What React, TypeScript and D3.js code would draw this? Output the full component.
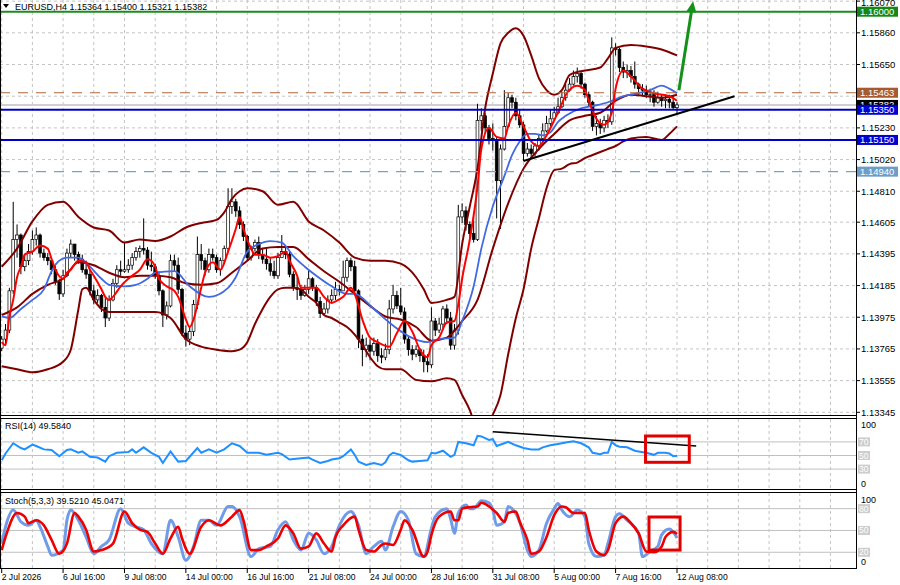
import React from 'react';
import * as d3 from 'd3';

// ---- values ----
const firstOpen = 1.1377;

const closes = [
  1.1383, 1.1389, 1.1415, 1.1449, 1.1452, 1.1431, 1.1435, 1.1441, 1.1449, 1.1452,
  1.1440, 1.1437, 1.1435, 1.1429, 1.1421, 1.1413, 1.1425, 1.1440, 1.1446, 1.1439,
  1.1436, 1.1429, 1.1426, 1.1415, 1.1409, 1.1412, 1.1404, 1.1397, 1.1409, 1.1420,
  1.1429, 1.1428, 1.1429, 1.1432, 1.1437, 1.1441, 1.1443, 1.1442, 1.1432, 1.1431,
  1.1425, 1.1415, 1.1399, 1.1405, 1.1435, 1.1432, 1.1416, 1.1387, 1.1383, 1.1388,
  1.1406, 1.1439, 1.1435, 1.1429, 1.1439, 1.1437, 1.1429, 1.1435, 1.1443, 1.1471,
  1.1474, 1.1468, 1.1459, 1.1451, 1.1437, 1.1443, 1.1447, 1.1439, 1.1436, 1.1433,
  1.1428, 1.1425, 1.1437, 1.1441, 1.1439, 1.1426, 1.1417, 1.1416, 1.1412, 1.1416,
  1.1423, 1.1417, 1.1408, 1.1400, 1.1403, 1.1409, 1.1412, 1.1416, 1.1415, 1.1424,
  1.1435, 1.1431, 1.1415, 1.1383, 1.1376, 1.1379, 1.1375, 1.1380, 1.1372, 1.1371,
  1.1376, 1.1403, 1.1412, 1.1405, 1.1401, 1.1383, 1.1376, 1.1373, 1.1376, 1.1372,
  1.1368, 1.1366, 1.1395, 1.1389, 1.1393, 1.1403, 1.1397, 1.1379, 1.1389, 1.1464,
  1.1468, 1.1459, 1.1453, 1.1449, 1.1528, 1.1531, 1.1523, 1.1516, 1.1515, 1.1488,
  1.1509, 1.1524, 1.1543, 1.1540, 1.1531, 1.1525, 1.1506, 1.1509, 1.1506, 1.1511,
  1.1516, 1.1521, 1.1526, 1.1529, 1.1533, 1.1537, 1.1543, 1.1548, 1.1552, 1.1557,
  1.1559, 1.1552, 1.1545, 1.1540, 1.1524, 1.1526, 1.1523, 1.1528, 1.1527, 1.1576,
  1.1575, 1.1563, 1.1560, 1.1561, 1.1557, 1.1552, 1.1549, 1.1548, 1.1545, 1.1545,
  1.1540, 1.1543, 1.1541, 1.1542, 1.1540, 1.15364, 1.15382,
];

const highs = [
  1.1385, 1.1393, 1.1417, 1.1474, 1.1459, 1.1453, 1.1439, 1.1446, 1.1455, 1.1457,
  1.1453, 1.1443, 1.1440, 1.1436, 1.1433, 1.1423, 1.1429, 1.1443, 1.1449, 1.1446,
  1.1441, 1.1439, 1.1435, 1.1429, 1.1419, 1.1416, 1.1413, 1.1411, 1.1412, 1.1423,
  1.1432, 1.1435, 1.1447, 1.1436, 1.1440, 1.1444, 1.1445, 1.1463, 1.1444, 1.1441,
  1.1433, 1.1428, 1.1416, 1.1408, 1.1439, 1.1439, 1.1437, 1.1417, 1.1392, 1.1391,
  1.1409, 1.1451, 1.1446, 1.1437, 1.1443, 1.1443, 1.1439, 1.1437, 1.1445, 1.1483,
  1.1483, 1.1476, 1.1471, 1.1461, 1.1452, 1.1445, 1.1449, 1.1451, 1.1443, 1.1443,
  1.1437, 1.1435, 1.1440, 1.1452, 1.1444, 1.1441, 1.1428, 1.1424, 1.1419, 1.1419,
  1.1429, 1.1424, 1.1419, 1.1411, 1.1407, 1.1412, 1.1416, 1.1421, 1.1419, 1.1435,
  1.1437, 1.1437, 1.1435, 1.1416, 1.1386, 1.1384, 1.1383, 1.1384, 1.1383, 1.1377,
  1.1380, 1.1409, 1.1419, 1.1415, 1.1417, 1.1404, 1.1385, 1.1379, 1.1379, 1.1377,
  1.1376, 1.1373, 1.1404, 1.1397, 1.1397, 1.1405, 1.1406, 1.1401, 1.1393, 1.1472,
  1.1473, 1.1471, 1.1461, 1.1466, 1.1539, 1.1536, 1.1533, 1.1525, 1.1526, 1.1517,
  1.1512, 1.1548, 1.1546, 1.1545, 1.1543, 1.1535, 1.1527, 1.1513, 1.1512, 1.1513,
  1.1519, 1.1526, 1.1531, 1.1535, 1.1537, 1.1543, 1.1547, 1.1552, 1.1556, 1.1561,
  1.1563, 1.1560, 1.1553, 1.1547, 1.1541, 1.1531, 1.1529, 1.1531, 1.1532, 1.1583,
  1.1579, 1.1576, 1.1567, 1.1565, 1.1564, 1.1567, 1.1553, 1.1552, 1.1551, 1.1549,
  1.1548, 1.1547, 1.1545, 1.1545, 1.1545, 1.1544, 1.15400,
];

const lows = [
  1.1375, 1.1379, 1.1387, 1.1413, 1.1437, 1.1426, 1.1428, 1.1432, 1.1439, 1.1445,
  1.1437, 1.1435, 1.1432, 1.1426, 1.1419, 1.1409, 1.1411, 1.1424, 1.1437, 1.1435,
  1.1433, 1.1427, 1.1423, 1.1412, 1.1406, 1.1407, 1.1401, 1.1391, 1.1395, 1.1408,
  1.1417, 1.1425, 1.1427, 1.1427, 1.1429, 1.1435, 1.1437, 1.1439, 1.1429, 1.1428,
  1.1423, 1.1412, 1.1391, 1.1396, 1.1404, 1.1428, 1.1413, 1.1385, 1.1378, 1.1379,
  1.1385, 1.1403, 1.1429, 1.1425, 1.1427, 1.1435, 1.1427, 1.1425, 1.1433, 1.1441,
  1.1466, 1.1464, 1.1456, 1.1448, 1.1435, 1.1435, 1.1441, 1.1436, 1.1433, 1.1429,
  1.1425, 1.1423, 1.1423, 1.1437, 1.1436, 1.1424, 1.1415, 1.1409, 1.1409, 1.1411,
  1.1413, 1.1415, 1.1405, 1.1397, 1.1399, 1.1400, 1.1407, 1.1409, 1.1412, 1.1415,
  1.1421, 1.1428, 1.1412, 1.1377, 1.1365, 1.1371, 1.1369, 1.1372, 1.1368, 1.1367,
  1.1369, 1.1373, 1.1400, 1.1403, 1.1399, 1.1380, 1.1372, 1.1369, 1.1371, 1.1368,
  1.1361, 1.1361, 1.1364, 1.1385, 1.1387, 1.1389, 1.1393, 1.1376, 1.1376, 1.1386,
  1.1460, 1.1455, 1.1449, 1.1447, 1.1448, 1.1521, 1.1519, 1.1512, 1.1508, 1.1463,
  1.1456, 1.1508, 1.1523, 1.1536, 1.1528, 1.1523, 1.1501, 1.1504, 1.1503, 1.1504,
  1.1508, 1.1513, 1.1520, 1.1524, 1.1528, 1.1532, 1.1536, 1.1541, 1.1547, 1.1551,
  1.1553, 1.1549, 1.1543, 1.1537, 1.1521, 1.1518, 1.1519, 1.1520, 1.1523, 1.1525,
  1.1571, 1.1560, 1.1556, 1.1556, 1.1553, 1.1549, 1.1545, 1.1544, 1.1543, 1.1540,
  1.1537, 1.1539, 1.1537, 1.1536, 1.1536, 1.1535, 1.15321,
];

const priceTicks = [1.1607, 1.1586, 1.1565, 1.1544, 1.1523, 1.1502, 1.1481, 1.14605, 1.14395, 1.14185, 1.13975, 1.13765, 1.13555, 1.13345];
// 1.15440 sits behind the object labels on the axis, so its text is not shown
const hiddenTickLabels = [1.1544];
const timeLabels = ['2 Jul 2026', '6 Jul 16:00', '9 Jul 08:00', '14 Jul 00:00', '16 Jul 16:00', '21 Jul 08:00', '24 Jul 00:00', '28 Jul 16:00', '31 Jul 08:00', '5 Aug 00:00', '7 Aug 16:00', '12 Aug 08:00'];

// indicator lines, [bar, value]
const bbUpper = [[0,1.1431],[4,1.1443],[8,1.1461],[12,1.1472],[16,1.1474],[20,1.1464],[24,1.1457],[28,1.1455],[32,1.1447],[36,1.1449],[40,1.1448],[44,1.1451],[48,1.1457],[52,1.146],[56,1.1462],[58,1.1467],[60,1.1476],[62,1.1481],[64,1.1483],[68,1.1481],[72,1.1472],[76,1.1474],[80,1.1461],[84,1.1455],[88,1.1447],[92,1.1437],[96,1.1435],[100,1.1435],[104,1.1433],[108,1.1424],[110,1.1416],[112,1.1407],[116,1.1409],[118,1.1411],[120,1.1446],[122,1.1471],[124,1.1496],[126,1.1536],[128,1.1559],[130,1.1579],[132,1.1586],[134,1.1589],[136,1.1584],[138,1.1571],[140,1.1556],[142,1.1548],[144,1.1545],[146,1.1548],[148,1.1558],[150,1.156],[152,1.1561],[156,1.1563],[158,1.1569],[160,1.1576],[164,1.1578],[168,1.1577],[172,1.1575],[176,1.1571]];
const bbMiddle = [[0,1.1399],[4,1.1404],[8,1.1413],[12,1.1419],[16,1.1423],[20,1.1434],[24,1.1432],[28,1.1427],[32,1.1424],[36,1.1425],[40,1.1425],[44,1.1424],[48,1.142],[52,1.1419],[56,1.142],[60,1.1427],[64,1.1435],[68,1.1443],[72,1.1444],[76,1.1444],[80,1.1436],[84,1.1428],[88,1.1421],[92,1.1413],[96,1.1405],[100,1.1398],[104,1.1396],[108,1.1391],[112,1.1382],[116,1.1384],[120,1.1395],[124,1.1409],[128,1.1443],[132,1.1473],[136,1.1496],[140,1.1509],[144,1.1519],[148,1.1528],[152,1.1531],[156,1.1533],[160,1.1541],[164,1.1545],[168,1.1544],[172,1.1543],[176,1.1545]];
const bbLower = [[0,1.1365],[4,1.1363],[8,1.1361],[12,1.1363],[16,1.1368],[18,1.1376],[20,1.1403],[21,1.1416],[22,1.1417],[24,1.1409],[26,1.1403],[28,1.1401],[32,1.1401],[36,1.1401],[40,1.1401],[44,1.1397],[48,1.1383],[52,1.1378],[56,1.1376],[60,1.1375],[62,1.1376],[64,1.1381],[66,1.1393],[68,1.1403],[70,1.1411],[72,1.1416],[74,1.1417],[76,1.1417],[78,1.1416],[80,1.1411],[82,1.1407],[84,1.1399],[86,1.1397],[88,1.1394],[90,1.1391],[92,1.1386],[94,1.1379],[96,1.1371],[98,1.1365],[100,1.1363],[104,1.1363],[108,1.1356],[112,1.1355],[116,1.1357],[118,1.1356],[120,1.1346],[122,1.1336],[124,1.1323],[126,1.1324],[128,1.1333],[130,1.1346],[132,1.1373],[134,1.1397],[136,1.1416],[138,1.1443],[140,1.1463],[142,1.1483],[144,1.1495],[146,1.1496],[148,1.1499],[150,1.15],[152,1.1503],[154,1.1505],[156,1.1507],[158,1.1509],[160,1.1511],[162,1.1514],[164,1.1516],[168,1.1517],[172,1.1515],[174,1.1519],[176,1.1524]];
const fastMa = [[0,1.1381],[1,1.1379],[2,1.1398],[3,1.1409],[4,1.1424],[5,1.1431],[6,1.1439],[8,1.1441],[10,1.1445],[12,1.1443],[13,1.1436],[14,1.1429],[16,1.1423],[17,1.1427],[18,1.1429],[20,1.1435],[22,1.1434],[23,1.1429],[24,1.1425],[26,1.1416],[27,1.1411],[28,1.1409],[29,1.1411],[31,1.1418],[33,1.1423],[34,1.1425],[36,1.1429],[38,1.1436],[39,1.1435],[40,1.1431],[41,1.1423],[43,1.1418],[45,1.1415],[46,1.1411],[48,1.1396],[49,1.1391],[50,1.1396],[52,1.1417],[53,1.1427],[55,1.1434],[57,1.1429],[59,1.1441],[61,1.1456],[62,1.1464],[63,1.1456],[65,1.1443],[66,1.1439],[68,1.1439],[70,1.1437],[72,1.1438],[74,1.1441],[75,1.1435],[77,1.1425],[78,1.1417],[80,1.1417],[82,1.1417],[84,1.1411],[86,1.1407],[87,1.1408],[89,1.1411],[91,1.1417],[92,1.1413],[94,1.1396],[96,1.1384],[98,1.1381],[101,1.1378],[103,1.1387],[105,1.1395],[107,1.1388],[109,1.1376],[111,1.1371],[112,1.1379],[114,1.1384],[116,1.1394],[118,1.1395],[119,1.1406],[120,1.1423],[122,1.1449],[124,1.1484],[125,1.1509],[127,1.1523],[129,1.1517],[131,1.1516],[132,1.1524],[134,1.1533],[136,1.1524],[138,1.1514],[140,1.1511],[142,1.1518],[144,1.1528],[146,1.1539],[147,1.1545],[150,1.1551],[152,1.1548],[153,1.1541],[155,1.1529],[157,1.1525],[159,1.1533],[160,1.1549],[162,1.1561],[164,1.1557],[167,1.1549],[170,1.1546],[174,1.1544],[176,1.1541]];
const slowMa = [[0,1.1398],[2,1.1397],[5,1.1403],[8,1.1409],[11,1.1416],[13,1.1428],[15,1.1435],[17,1.1437],[20,1.1437],[23,1.1431],[26,1.1423],[28,1.1419],[32,1.1418],[35,1.1419],[38,1.1423],[40,1.1427],[45,1.1428],[49,1.1418],[54,1.1411],[59,1.1417],[61,1.1424],[64,1.1441],[67,1.1446],[70,1.1448],[73,1.1447],[76,1.1438],[79,1.1431],[82,1.1425],[86,1.1418],[90,1.1413],[92,1.1413],[97,1.1403],[101,1.1394],[106,1.1385],[111,1.1381],[114,1.1383],[118,1.1384],[120,1.1395],[123,1.1418],[125,1.1443],[128,1.1471],[131,1.1491],[133,1.1505],[135,1.1514],[137,1.1519],[139,1.1519],[141,1.1518],[143,1.152],[145,1.1527],[147,1.1531],[151,1.1536],[155,1.1538],[158,1.154],[162,1.1544],[166,1.1546],[169,1.1548],[172,1.1551],[174,1.1549],[176,1.1546]];
const rsi = [[0,43],[1,53],[3,68],[5,61],[6,59],[8,66],[9,64],[11,59],[13,58],[15,49],[17,58],[18,59],[20,54],[21,56],[23,48],[25,47],[27,41],[28,49],[30,54],[33,55],[34,59],[35,54],[37,62],[39,54],[41,48],[42,39],[44,56],[46,41],[48,42],[51,61],[52,54],[54,59],[56,54],[58,59],[60,68],[62,64],[64,54],[67,54],[69,51],[72,54],[73,52],[75,44],[78,46],[80,47],[81,44],[83,39],[85,42],[86,44],[88,46],[89,49],[91,59],[92,51],[93,41],[95,36],[97,39],[99,36],[100,40],[101,50],[102,54],[104,51],[106,43],[107,41],[109,42],[111,43],[112,54],[113,53],[115,57],[117,48],[118,51],[119,70],[121,68],[123,65],[124,79],[125,78],[127,73],[128,74],[129,64],[131,68],[132,70],[134,65],[136,61],[138,59],[140,59],[141,62],[143,65],[145,67],[147,69],[149,71],[151,68],[153,62],[154,54],[156,52],[157,54],[158,54],[159,70],[160,65],[161,63],[163,62],[165,57],[166,56],[168,54],[170,51],[171,54],[173,54],[174,53],[175,49],[176,49.584]];
const stochMain = [[0,32],[1,55],[3,78],[5,62],[7,57],[9,64],[10,55],[12,28],[13,16],[16,23],[17,64],[18,78],[20,64],[22,41],[24,18],[26,28],[28,37],[31,80],[33,60],[35,55],[37,51],[39,32],[42,18],[44,64],[46,41],[48,9],[50,28],[52,64],[54,64],[56,57],[59,83],[60,83],[62,69],[65,14],[67,25],[70,28],[72,51],[74,62],[76,37],[78,23],[80,46],[82,37],[84,18],[86,28],[88,57],[91,76],[93,57],[95,18],[97,28],[99,35],[100,23],[102,55],[104,76],[106,64],[108,18],[110,14],[112,53],[113,69],[116,80],[117,66],[118,46],[119,74],[121,85],[122,80],[123,80],[125,91],[127,88],[128,78],[129,57],[131,62],[132,83],[133,80],[135,62],[137,23],[138,14],[140,23],[142,60],[144,80],[145,87],[146,78],[148,69],[150,78],[152,69],[153,32],[155,14],[157,16],[158,32],[160,69],[161,73],[163,64],[166,46],[167,14],[169,21],[171,28],[172,44],[174,52],[175,48],[176,39.521]];
const stochSignal = [[0,23],[1,41],[4,74],[6,69],[7,60],[9,64],[11,57],[13,37],[15,18],[17,32],[19,74],[20,69],[22,51],[24,21],[26,23],[29,32],[32,76],[34,60],[36,51],[38,48],[40,32],[42,18],[44,39],[46,55],[47,39],[49,18],[52,55],[54,64],[57,57],[60,69],[62,78],[63,64],[65,23],[67,23],[69,28],[72,39],[74,57],[76,46],[78,25],[80,28],[82,46],[84,32],[86,21],[87,41],[89,57],[92,69],[93,51],[95,23],[97,21],[99,30],[100,32],[102,30],[104,51],[105,64],[107,51],[110,14],[111,21],[112,44],[114,69],[117,76],[118,64],[119,64],[120,80],[122,82],[124,83],[125,88],[127,83],[129,74],[131,62],[132,74],[134,76],[135,62],[137,37],[138,18],[140,21],[142,41],[144,71],[146,83],[147,82],[149,74],[151,74],[152,74],[153,51],[155,21],[157,16],[158,23],[160,60],[162,69],[164,60],[166,46],[168,21],[170,20],[172,28],[173,41],[175,48],[176,45.047]];

// drawn objects
const levelPrices = [1.16, 1.15463, 1.1535, 1.1515, 1.1494];
const levelColors = ['#1c8c1c', '#b0683c', '#0000c8', '#0000c8', '#77a2c8'];
const levelLabelFill = ['#148714', '#a65a30', '#0000d2', '#0000d2', '#6f9cc6'];
const priceTrend = [[136, 1.1501], [191, 1.1544]];
const upArrow = [[176.5, 1.1548], [180.2, 1.1607]];
const rsiTrend = [[128, 85], [181, 64]];
const rsiBox = [[167.8, 40], [179.2, 78.7]];
const stochBox = [[168.7, 23], [176.8, 68.5]];

const FONT = '"Liberation Sans", Arial, sans-serif';
const PR = 856; // right edge of plot
const MAIN_B = 415;

const App: React.FC = () => {
  const x = d3.scaleLinear().domain([0, 176]).range([1.7, 677]);
  const y = d3.scaleLinear().domain([1.13345, 1.1607]).range([412.3, 1.14]);
  const yR = d3.scaleLinear().domain([0, 100]).range([489.5, 421.5]);
  const yS = d3.scaleLinear().domain([0, 100]).range([566.8, 494.1]);

  const mk = (ys: d3.ScaleLinear<number, number>, curve: d3.CurveFactory) =>
    d3.line<number[]>().x((d) => x(d[0])).y((d) => ys(d[1])).curve(curve);
  const pLine = mk(y, d3.curveMonotoneX);
  const rLine = mk(yR, d3.curveLinear);
  const sLine = mk(yS, d3.curveMonotoneX);

  const gridBars = d3.range(0, 224, 8);
  const bid = closes[closes.length - 1];

  const vGrid = (y1: number, y2: number) =>
    gridBars.map((b) => (
      <line key={`${y1}-${b}`} x1={x(b)} x2={x(b)} y1={y1} y2={y2} stroke="#c4c4c4" strokeDasharray="3,3" />
    ));

  const axisLabel = (p: number, key: string, fill: string, text: string) => (
    <g key={key}>
      <rect x={857} y={y(p) - 5} width={41} height={10} fill={fill} />
      <text x={860} y={y(p) + 3.5} fontSize={9.5} fill="#fff">{text}</text>
    </g>
  );

  const levelBox = (ys: d3.ScaleLinear<number, number>, v: number, key: string) => (
    <g key={key}>
      <rect x={858} y={ys(v) - 4.5} width={12} height={9} fill="#cdcdcd" />
      <text x={859} y={ys(v) + 3} fontSize={8.5} fill="#fff">{v}</text>
    </g>
  );

  const [aFrom, aTo] = upArrow;
  const ax1 = x(aFrom[0]), ay1 = y(aFrom[1]), ax2 = x(aTo[0]), ay2 = y(aTo[1]);
  const ang = Math.atan2(ay2 - ay1, ax2 - ax1);
  const head = [
    [ax2, ay2],
    [ax2 - 11 * Math.cos(ang) + 5 * Math.sin(ang), ay2 - 11 * Math.sin(ang) - 5 * Math.cos(ang)],
    [ax2 - 11 * Math.cos(ang) - 5 * Math.sin(ang), ay2 - 11 * Math.sin(ang) + 5 * Math.cos(ang)],
  ];

  return (
    <svg width={900} height={585} style={{ position: 'absolute', left: 0, top: 0 }} fontFamily={FONT}>
      <defs>
        <clipPath id="mainClip"><rect x={0} y={0} width={PR} height={MAIN_B} /></clipPath>
      </defs>
      <rect width={900} height={585} fill="#fff" />

      {/* grids */}
      {vGrid(0, MAIN_B)}
      {vGrid(419, 489)}
      {vGrid(493, 568)}
      {priceTicks.map((p) => (
        <line key={p} x1={0} x2={PR} y1={y(p)} y2={y(p)} stroke="#c4c4c4" strokeDasharray="3,3" />
      ))}

      {/* bid line */}
      <line x1={0} x2={PR} y1={y(bid)} y2={y(bid)} stroke="#cfcfcf" strokeWidth={2} />

      <g clipPath="url(#mainClip)">
        {/* candles */}
        {closes.map((c, i) => {
          const o = i === 0 ? firstOpen : closes[i - 1];
          const cx = x(i);
          const hi = Math.max(highs[i], o, c);
          const lo = Math.min(lows[i], o, c);
          const top = y(Math.max(o, c));
          const bot = y(Math.min(o, c));
          return (
            <g key={i}>
              <line x1={cx} x2={cx} y1={y(hi)} y2={y(lo)} stroke="#000" strokeWidth={1} />
              <rect x={cx - 1.4} y={top} width={2.8} height={Math.max(bot - top, 0.8)}
                fill={c >= o ? '#fff' : '#000'} stroke="#000" strokeWidth={0.7} />
            </g>
          );
        })}

        {/* indicators */}
        {[bbUpper, bbMiddle, bbLower].map((d, k) => (
          <path key={k} d={pLine(d) || ''} fill="none" stroke="#800000" strokeWidth={2} />
        ))}
        <path d={pLine(slowMa) || ''} fill="none" stroke="#4169e1" strokeWidth={1.8} />
        <path d={pLine(fastMa) || ''} fill="none" stroke="#ff0000" strokeWidth={2} />

        {/* horizontal objects */}
        {levelPrices.map((p, k) => (
          <line key={p} x1={0} x2={PR} y1={y(p)} y2={y(p)} stroke={levelColors[k]}
            strokeWidth={k === 1 || k === 4 ? 1.2 : 2}
            strokeDasharray={k === 1 || k === 4 ? '10,8' : undefined} />
        ))}

        {/* trend line and arrow */}
        <line x1={x(priceTrend[0][0])} y1={y(priceTrend[0][1])} x2={x(priceTrend[1][0])} y2={y(priceTrend[1][1])}
          stroke="#000" strokeWidth={2} />
        <line x1={ax1} y1={ay1} x2={ax2 - 8 * Math.cos(ang)} y2={ay2 - 8 * Math.sin(ang)} stroke="#13911a" strokeWidth={3} />
        <polygon points={head.map((p) => p.join(',')).join(' ')} fill="#13911a" />
      </g>

      {/* header */}
      <path d="M3,4 L9,4 L6,8 Z" fill="#000" />
      <text x={15} y={10} fontSize={9} fill="#000">EURUSD,H4  1.15364 1.15400 1.15321 1.15382</text>

      {/* RSI panel */}
      {[70, 50, 30].map((v) => (
        <line key={v} x1={0} x2={PR} y1={yR(v)} y2={yR(v)} stroke="#c0c0c0" strokeWidth={1} />
      ))}
      <path d={rLine(rsi) || ''} fill="none" stroke="#1e90ff" strokeWidth={2} />
      <line x1={x(rsiTrend[0][0])} y1={yR(rsiTrend[0][1])} x2={x(rsiTrend[1][0])} y2={yR(rsiTrend[1][1])}
        stroke="#000" strokeWidth={1.6} />
      <rect x={x(rsiBox[0][0])} y={yR(rsiBox[1][1])} width={x(rsiBox[1][0]) - x(rsiBox[0][0])}
        height={yR(rsiBox[0][1]) - yR(rsiBox[1][1])} fill="none" stroke="#e00000" strokeWidth={3} />
      <text x={5} y={429} fontSize={9} fill="#000">RSI(14) 49.5840</text>

      {/* Stochastic panel */}
      {[80, 50, 20].map((v) => (
        <line key={v} x1={0} x2={PR} y1={yS(v)} y2={yS(v)} stroke="#c0c0c0" strokeWidth={1} />
      ))}
      <path d={sLine(stochMain) || ''} fill="none" stroke="#6f9be8" strokeWidth={3} />
      <path d={sLine(stochSignal) || ''} fill="none" stroke="#ee0000" strokeWidth={2.6} />
      <rect x={x(stochBox[0][0])} y={yS(stochBox[1][1])} width={x(stochBox[1][0]) - x(stochBox[0][0])}
        height={yS(stochBox[0][1]) - yS(stochBox[1][1])} fill="none" stroke="#e00000" strokeWidth={3} />
      <text x={5} y={504} fontSize={9} fill="#000">Stoch(5,3,3) 39.5210 45.0471</text>

      {/* panel frames */}
      <line x1={0} x2={PR} y1={415.5} y2={415.5} stroke="#000" />
      <line x1={0} x2={PR} y1={418.5} y2={418.5} stroke="#000" />
      <line x1={0} x2={PR} y1={489.5} y2={489.5} stroke="#000" />
      <line x1={0} x2={PR} y1={492.5} y2={492.5} stroke="#000" />
      <line x1={0} x2={PR} y1={568.5} y2={568.5} stroke="#000" />
      <line x1={0.5} x2={0.5} y1={0} y2={569} stroke="#000" />
      <line x1={PR + 0.5} x2={PR + 0.5} y1={0} y2={569} stroke="#000" />

      {/* price axis */}
      {priceTicks.map((p) => (
        <g key={p}>
          <line x1={PR} x2={PR + 4} y1={y(p)} y2={y(p)} stroke="#000" />
          {!hiddenTickLabels.includes(p) && (
            <text x={861} y={Math.max(y(p) + 3.5, 5.5)} fontSize={9.5} fill="#000">{p.toFixed(5)}</text>
          )}
        </g>
      ))}
      {axisLabel(bid, 'bid', '#000', bid.toFixed(5))}
      {levelPrices.map((p, k) => axisLabel(p, `lv${k}`, levelLabelFill[k], p.toFixed(5)))}

      {/* RSI / Stoch axes */}
      <text x={861} y={427.5} fontSize={9} fill="#000">100</text>
      {[70, 50, 30].map((v) => levelBox(yR, v, `r${v}`))}
      <text x={861} y={486.5} fontSize={9} fill="#000">0</text>
      <text x={861} y={502.5} fontSize={9} fill="#000">100</text>
      {[80, 50, 20].map((v) => levelBox(yS, v, `s${v}`))}
      <text x={861} y={564.5} fontSize={9} fill="#000">0</text>

      {/* time axis */}
      {timeLabels.map((t, k) => (
        <g key={t}>
          <line x1={x(k * 16)} x2={x(k * 16)} y1={569} y2={573} stroke="#000" />
          <text x={x(k * 16)} y={580} fontSize={8.6} fill="#000">{t}</text>
        </g>
      ))}
    </svg>
  );
};

export default App;
